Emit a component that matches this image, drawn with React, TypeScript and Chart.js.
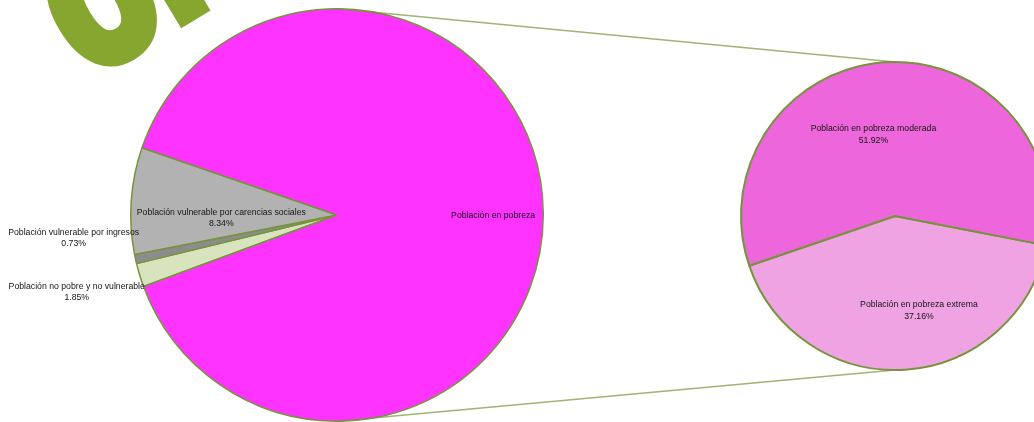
import React, { useEffect, useRef } from "react";
import { Chart, registerables } from "chart.js";

Chart.register(...registerables);

// ---- data ----
const mainLabels = [
  "Población no pobre y no vulnerable",
  "Población vulnerable por ingresos",
  "Población vulnerable por carencias sociales",
  "Población en pobreza",
];
const mainValues = [1.85, 0.73, 8.34, 89.08];
const mainShowValue = [true, true, true, false];

const subLabels = ["Población en pobreza extrema", "Población en pobreza moderada"];
const subValues = [37.16, 51.92];

const logoText = "on";

// ---- styles ----
const mainColors = ["#D7E4BD", "#8C8C8C", "#B2B2B2", "#FF33FF"];
const subColors = ["#EFA3E3", "#EE66DC"];
const borderColor = "#77933C";
const lineColor = "rgba(119,147,60,0.7)";
const logoColor = "#87A62F";
// label anchors relative to pie centre, in units of radius
const mainLabelPos = [
  [-1.262, 0.375],
  [-1.277, 0.113],
  [-0.561, 0.016],
  [0.757, 0.005],
];
const subLabelPos = [
  [0.156, 0.614],
  [-0.14, -0.529],
];

function makeLabelPlugin(id: string, labels: string[], values: number[], show: boolean[], pos: number[][], lh: number) {
  return {
    id,
    afterDatasetsDraw(chart: any) {
      const ctx = chart.ctx as CanvasRenderingContext2D;
      const arc0 = chart.getDatasetMeta(0).data[0] as any;
      const cx = arc0.x, cy = arc0.y, r = arc0.outerRadius;
      ctx.save();
      ctx.font = '8.7px "Liberation Sans", Arial, sans-serif';
      ctx.fillStyle = "#141414";
      ctx.textAlign = "center";
      ctx.textBaseline = "middle";
      labels.forEach((lab, i) => {
        const x = cx + pos[i][0] * r;
        const y = cy + pos[i][1] * r;
        const lines = show[i] ? [lab, values[i].toFixed(2) + "%"] : [lab];
        lines.forEach((t, k) => ctx.fillText(t, x, y + (k - (lines.length - 1) / 2) * lh));
      });
      ctx.restore();
    },
  };
}

const logoPlugin = {
  id: "logo",
  beforeDatasetsDraw(chart: any) {
    const ctx = chart.ctx as any;
    ctx.save();
    ctx.translate(86, 79);
    ctx.rotate((-31 * Math.PI) / 180);
    ctx.scale(1, 1.35);
    ctx.font = 'bold 150px "DejaVu Sans"';
    ctx.letterSpacing = "-4px";
    ctx.fillStyle = logoColor;
    ctx.strokeStyle = logoColor;
    ctx.lineWidth = 8;
    ctx.lineJoin = "miter";
    ctx.textBaseline = "alphabetic";
    ctx.fillText(logoText, 0, 0);
    ctx.strokeText(logoText, 0, 0);
    ctx.restore();
  },
};

export default function App() {
  const bigRef = useRef<HTMLCanvasElement>(null);
  const smallRef = useRef<HTMLCanvasElement>(null);

  useEffect(() => {
    const big = new Chart(bigRef.current!, {
      type: "pie",
      data: {
        labels: mainLabels,
        datasets: [
          {
            data: mainValues,
            backgroundColor: mainColors,
            borderColor,
            borderWidth: 1.5,
          },
        ],
      },
      options: {
        responsive: false,
        animation: false,
        rotation: 249.7,
        layout: { padding: { left: 130, right: 490, top: 8, bottom: 0 } },
        plugins: { legend: { display: false }, tooltip: { enabled: false } },
      },
      plugins: [logoPlugin, makeLabelPlugin("mainLabels", mainLabels, mainValues, mainShowValue, mainLabelPos, 10.5)],
    });

    const connector = {
      id: "connector",
      beforeDatasetsDraw(chart: any) {
        const a = big.getDatasetMeta(0).data[0] as any;
        const b = chart.getDatasetMeta(0).data[0] as any;
        const ctx = chart.ctx as CanvasRenderingContext2D;
        ctx.save();
        ctx.strokeStyle = lineColor;
        ctx.lineWidth = 1.5;
        ctx.beginPath();
        ctx.moveTo(a.x, a.y - a.outerRadius);
        ctx.lineTo(b.x, b.y - b.outerRadius);
        ctx.moveTo(a.x, a.y + a.outerRadius);
        ctx.lineTo(b.x, b.y + b.outerRadius);
        ctx.stroke();
        ctx.restore();
      },
    };

    const small = new Chart(smallRef.current!, {
      type: "pie",
      data: {
        labels: subLabels,
        datasets: [
          {
            data: subValues,
            backgroundColor: subColors,
            borderColor,
            borderWidth: 2,
          },
        ],
      },
      options: {
        responsive: false,
        animation: false,
        rotation: 101,
        layout: { padding: { left: 740, right: 50, top: 61, bottom: 51 } },
        plugins: { legend: { display: false }, tooltip: { enabled: false } },
      },
      plugins: [connector, makeLabelPlugin("subLabels", subLabels, subValues, [true, true], subLabelPos, 11.5)],
    });

    return () => {
      small.destroy();
      big.destroy();
    };
  }, []);

  return (
    <div
      style={{
        position: "fixed",
        left: 0,
        top: 0,
        width: 1034,
        height: 422,
        overflow: "hidden",
        background: "#ffffff",
      }}
    >
      <canvas ref={bigRef} width={1034} height={422} style={{ position: "absolute", left: 0, top: 0 }} />
      <canvas ref={smallRef} width={1100} height={422} style={{ position: "absolute", left: 0, top: 0 }} />
    </div>
  );
}
